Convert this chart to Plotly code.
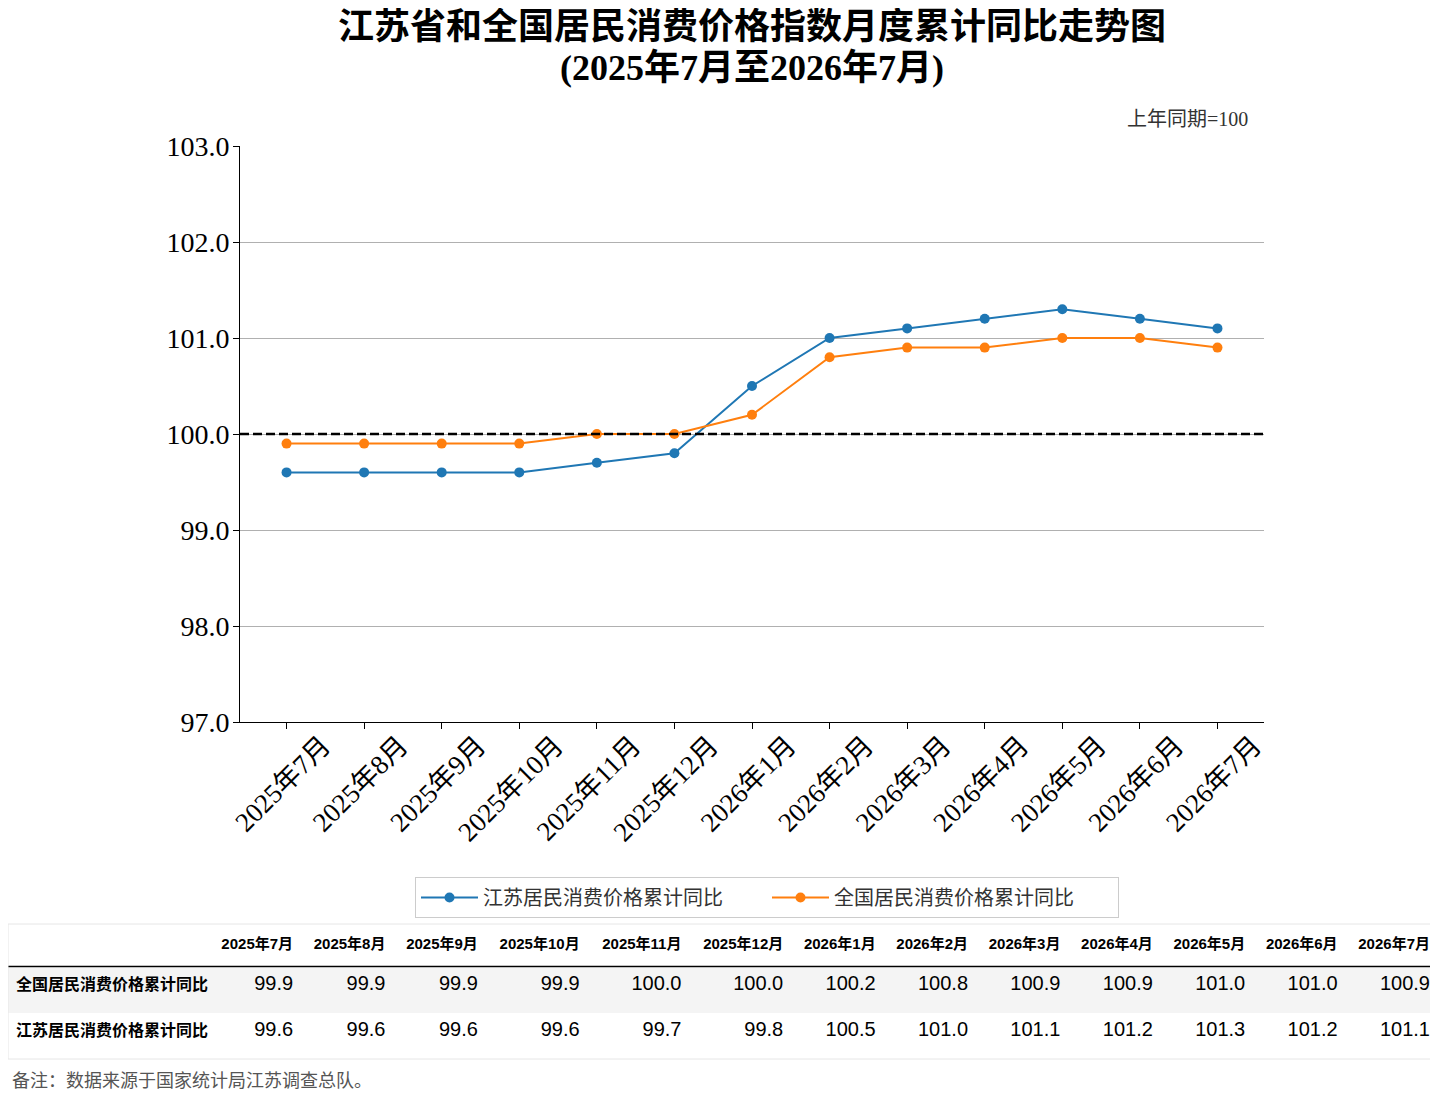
"""
江苏省和全国居民消费价格指数月度累计同比走势图 (2025年7月至2026年7月)
"""

import plotly.graph_objects as go

W, H = 1438, 1109
PAGE_PAD = 8  # default body margin of the html page

# ---- data ----
months = [
    '2025年7月', '2025年8月', '2025年9月', '2025年10月', '2025年11月',
    '2025年12月', '2026年1月', '2026年2月', '2026年3月', '2026年4月',
    '2026年5月', '2026年6月', '2026年7月',
]
jiangsu_cpi = [99.6, 99.6, 99.6, 99.6, 99.7, 99.8, 100.5,
               101.0, 101.1, 101.2, 101.3, 101.2, 101.1]
national_cpi = [99.9, 99.9, 99.9, 99.9, 100.0, 100.0, 100.2,
                100.8, 100.9, 100.9, 101.0, 101.0, 100.9]
jiangsu_name = '江苏居民消费价格累计同比'
national_name = '全国居民消费价格累计同比'
y_ticks = [97.0, 98.0, 99.0, 100.0, 101.0, 102.0, 103.0]

SERIF = 'Liberation Serif, Times New Roman, Noto Sans CJK SC'
SANS = 'Liberation Sans, Arial, Noto Sans CJK SC'
CJK = 'Noto Sans CJK SC'


def px_x(v):
    # screen pixel -> paper fraction
    return (v - PAGE_PAD) / W


def px_y(v):
    return 1 - (v - PAGE_PAD) / H


fig = go.Figure()

fig.add_trace(go.Scatter(
    x=months, y=jiangsu_cpi, mode='lines+markers', name=jiangsu_name,
    line=dict(color='#1f77b4', width=2),
    marker=dict(size=10, color='#1f77b4'),
))
fig.add_trace(go.Scatter(
    x=months, y=national_cpi, mode='lines+markers', name=national_name,
    line=dict(color='#ff7f0e', width=2),
    marker=dict(size=10, color='#ff7f0e'),
))

# table under the chart
col_widths = [208.7 - PAGE_PAD] + [101.8 if len(m) > 7 else 92.4 for m in months]
header_vals = [''] + ['<b>%s</b>' % m for m in months]
row_labels = ['<b>%s</b>' % national_name, '<b>%s</b>' % jiangsu_name]
cell_vals = [row_labels] + [
    ['%.1f' % n, '%.1f' % j] for n, j in zip(national_cpi, jiangsu_cpi)
]
row_fill = [['#f4f4f4', '#ffffff']]

fig.add_trace(go.Table(
    domain=dict(x=[0, px_x(W)], y=[0, px_y(927)]),
    columnwidth=col_widths,
    header=dict(
        values=header_vals, height=40, align='right',
        fill=dict(color='white'), line=dict(color='white', width=1),
        font=dict(family=SANS, size=15, color='black'),
    ),
    cells=dict(
        values=cell_vals, height=46,
        align=['left'] + ['right'] * len(months),
        fill=dict(color=row_fill), line=dict(color=row_fill, width=1),
        font=dict(family=SANS, size=[16] + [20] * len(months), color='black'),
    ),
))

fig.update_layout(
    width=W, height=H, autosize=False,
    margin=dict(l=0, r=0, t=0, b=0, autoexpand=False),
    paper_bgcolor='white', plot_bgcolor='white',
    xaxis=dict(
        domain=[px_x(240), px_x(1264)],
        type='category', range=[-0.6, 12.6],
        showline=True, linecolor='black', linewidth=1,
        ticks='outside', ticklen=6, tickcolor='black',
        tickangle=-45, ticklabelshift=36, ticklabelstandoff=-10,
        tickfont=dict(family=SERIF, size=27, color='black'),
        showgrid=False, zeroline=False,
    ),
    yaxis=dict(
        domain=[px_y(722), px_y(146)],
        range=[97, 103], tickvals=y_ticks, tickformat='.1f',
        showline=True, linecolor='black', linewidth=1,
        ticks='outside', ticklen=6, tickcolor='black', ticklabelstandoff=-2,
        tickfont=dict(family=SERIF, size=28, color='black'),
        showgrid=True, gridcolor='#b0b0b0', gridwidth=1, zeroline=False,
    ),
    legend=dict(
        orientation='h', x=px_x(415), xanchor='left',
        y=px_y(877), yanchor='top',
        bordercolor='#cccccc', borderwidth=1, bgcolor='white',
        font=dict(family=CJK, size=20, color='#333333'),
        itemwidth=57, entrywidth=279,
    ),
    shapes=[
        # reference line at 100
        dict(type='line', xref='x domain', x0=0, x1=1, yref='y', y0=100, y1=100,
             line=dict(color='black', width=2.5, dash='9px,4px'), layer='above'),
        # line under table header
        dict(type='line', xref='paper', x0=0, x1=1, yref='paper',
             y0=px_y(966.5), y1=px_y(966.5), line=dict(color='black', width=1.5)),
        # table frame
        dict(type='rect', xref='paper', x0=0, x1=px_x(W), yref='paper',
             y0=px_y(1059), y1=px_y(924), line=dict(color='#e6e6e6', width=1)),
    ],
    annotations=[
        dict(text='<b>江苏省和全国居民消费价格指数月度累计同比走势图</b>',
             xref='paper', yref='paper', x=px_x(752), y=px_y(27),
             xanchor='center', yanchor='middle', showarrow=False,
             font=dict(family=SERIF, size=36, color='black')),
        dict(text='<b>(2025年7月至2026年7月)</b>',
             xref='paper', yref='paper', x=px_x(752), y=px_y(68),
             xanchor='center', yanchor='middle', showarrow=False,
             font=dict(family=SERIF, size=36, color='black')),
        dict(text='上年同期=100', xref='paper', yref='paper',
             x=px_x(1250), y=px_y(119), xanchor='right', yanchor='middle',
             showarrow=False, font=dict(family=SERIF, size=20, color='#333333')),
        dict(text='备注：数据来源于国家统计局江苏调查总队。', xref='paper', yref='paper',
             x=px_x(10), y=px_y(1079), xanchor='left', yanchor='middle',
             showarrow=False, font=dict(family=CJK, size=18, color='#555555')),
    ],
)

fig.write_html("out.html")
